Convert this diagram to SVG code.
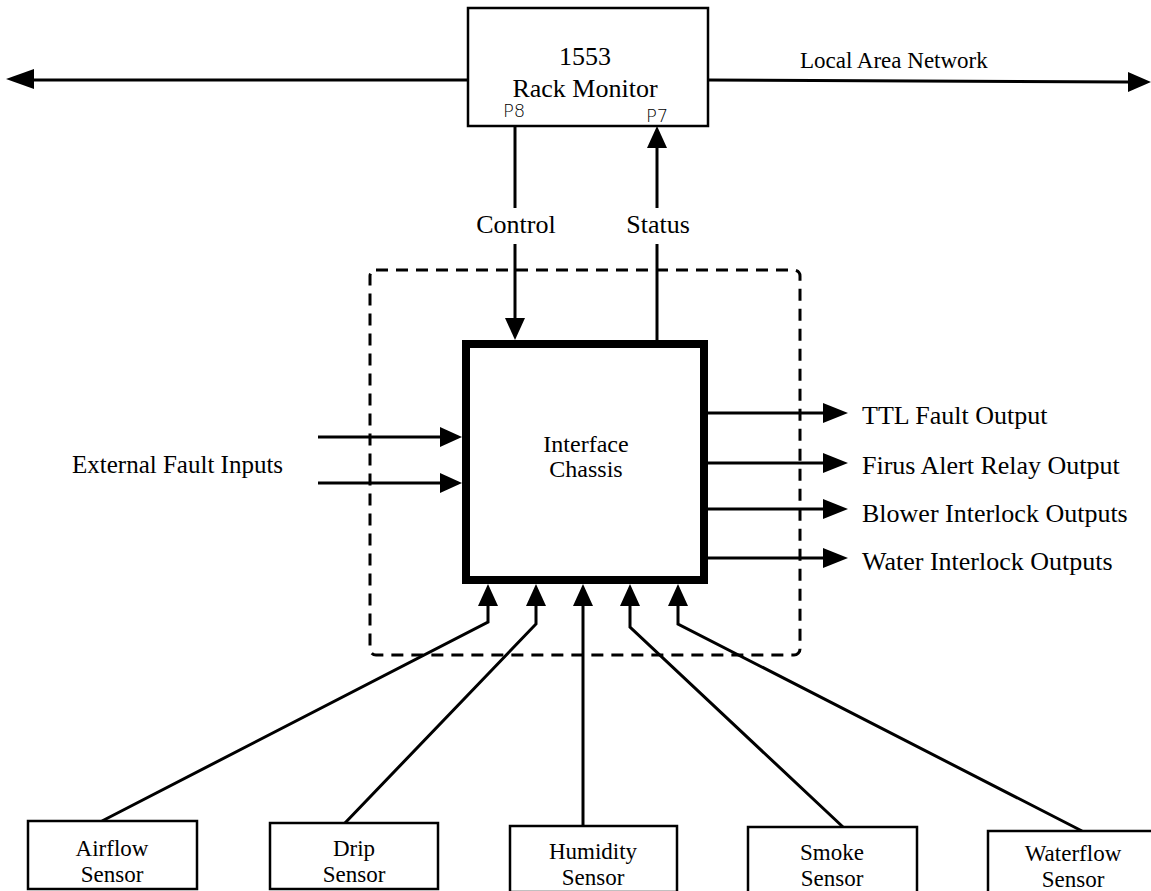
<svg xmlns="http://www.w3.org/2000/svg" width="1151" height="891" viewBox="0 0 1151 891">
<style>
.box{fill:#fff;stroke:#000;stroke-width:2.5}
.thick{fill:#fff;stroke:#000;stroke-width:8}
.dash{fill:none;stroke:#000;stroke-width:3;stroke-dasharray:12 8}
.ln{fill:none;stroke:#000;stroke-width:3}
.t{font-family:"Liberation Serif","Times New Roman",serif;font-size:25px;fill:#000}
.o{font-size:26px}
.s{font-size:23px}
.sn{font-size:23px}
.c{text-anchor:middle}
.hand{font-family:"DejaVu Sans",sans-serif;font-size:18px;font-weight:300;fill:#000}
</style>
<rect width="1151" height="891" fill="#fff"/>
<g id="dashed-boundary"><rect class="dash" x="370" y="270" width="430" height="385" rx="6"/></g>
<g id="connectors">
<path class="ln" d="M468,80 L30,80"/>
<path d="M6,79 L34,69 L34,89 z" fill="#000"/>
<path class="ln" d="M708,80 L1128,82"/>
<path d="M1151,82 L1128,72 L1128,92 z" fill="#000"/>
<path class="ln" d="M515,126 L515,208"/>
<path class="ln" d="M515,244 L515,320"/>
<path d="M515,340 L505,318 L525,318 z" fill="#000"/>
<path class="ln" d="M657,340 L657,244"/>
<path class="ln" d="M657,208 L657,148"/>
<path d="M657,126 L647,148 L667,148 z" fill="#000"/>
<path class="ln" d="M318,437 L442,437"/>
<path d="M462,437 L440,427 L440,447 z" fill="#000"/>
<path class="ln" d="M318,483 L442,483"/>
<path d="M462,483 L440,473 L440,493 z" fill="#000"/>
<path class="ln" d="M708,413 L825,413"/>
<path d="M848,413 L823,403 L823,423 z" fill="#000"/>
<path class="ln" d="M708,463 L825,463"/>
<path d="M848,463 L823,453 L823,473 z" fill="#000"/>
<path class="ln" d="M708,509 L825,509"/>
<path d="M848,509 L823,499 L823,519 z" fill="#000"/>
<path class="ln" d="M708,558 L825,558"/>
<path d="M848,558 L823,548 L823,568 z" fill="#000"/>
<path class="ln" d="M488,604 L488,622 L102,821"/>
<path d="M488,584 L478,606 L498,606 z" fill="#000"/>
<path class="ln" d="M536,604 L536,624 L345,823"/>
<path d="M536,584 L526,606 L546,606 z" fill="#000"/>
<path class="ln" d="M583,604 L583,826"/>
<path d="M583,584 L573,606 L593,606 z" fill="#000"/>
<path class="ln" d="M630,604 L630,627 L843,827"/>
<path d="M630,584 L620,606 L640,606 z" fill="#000"/>
<path class="ln" d="M678,604 L678,624 L1082,831"/>
<path d="M678,584 L668,606 L688,606 z" fill="#000"/>
</g>
<g id="rack-monitor">
<rect class="box" x="468" y="8" width="240" height="118"/>
<text class="t o c" x="585" y="65">1553</text>
<text class="t o c" x="585" y="97">Rack Monitor</text>
<text class="hand" x="503" y="117">P8</text>
<text class="hand" x="646" y="122">P7</text>
</g>
<g id="labels">
<text class="t o c" x="516" y="233">Control</text>
<text class="t o c" x="658" y="233">Status</text>
<text class="t s" x="800" y="68">Local Area Network</text>
<text class="t" x="72" y="473">External Fault Inputs</text>
<text class="t o" x="862" y="424">TTL Fault Output</text>
<text class="t o" x="862" y="474">Firus Alert Relay Output</text>
<text class="t o" x="862" y="522">Blower Interlock Outputs</text>
<text class="t o" x="862" y="570">Water Interlock Outputs</text>
</g>
<g id="interface-chassis">
<rect class="thick" x="466" y="344" width="238" height="236"/>
<text class="t c" x="586" y="452" style="font-size:24px">Interface</text>
<text class="t c" x="586" y="477" style="font-size:24px">Chassis</text>
</g>
<g id="airflow-sensor">
<rect class="box" x="28" y="821" width="169" height="68"/>
<text class="t sn c" x="112" y="856">Airflow</text>
<text class="t sn c" x="112" y="882">Sensor</text>
</g>
<g id="drip-sensor">
<rect class="box" x="270" y="823" width="168" height="66"/>
<text class="t sn c" x="354" y="856">Drip</text>
<text class="t sn c" x="354" y="882">Sensor</text>
</g>
<g id="humidity-sensor">
<rect class="box" x="510" y="826" width="167" height="66"/>
<text class="t sn c" x="593" y="859">Humidity</text>
<text class="t sn c" x="593" y="885">Sensor</text>
</g>
<g id="smoke-sensor">
<rect class="box" x="748" y="827" width="169" height="66"/>
<text class="t sn c" x="832" y="860">Smoke</text>
<text class="t sn c" x="832" y="886">Sensor</text>
</g>
<g id="waterflow-sensor">
<rect class="box" x="988" y="831" width="175" height="66"/>
<text class="t sn c" x="1073" y="861">Waterflow</text>
<text class="t sn c" x="1073" y="887">Sensor</text>
</g>
</svg>
